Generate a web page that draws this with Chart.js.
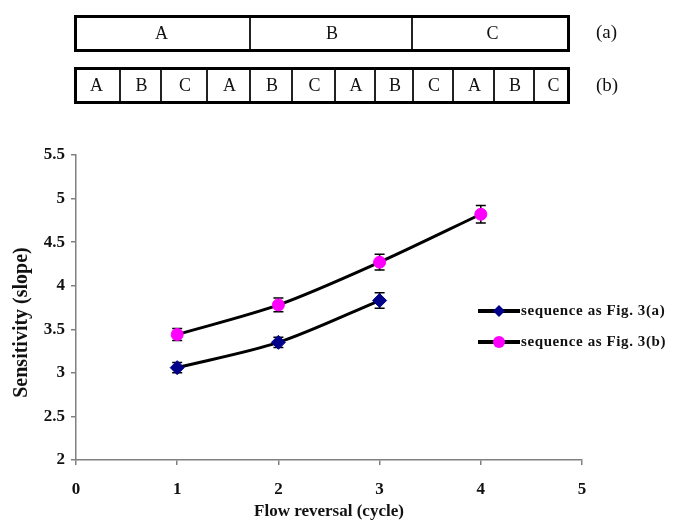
<!DOCTYPE html>
<html>
<head>
<meta charset="utf-8">
<script src="https://cdn.jsdelivr.net/npm/chart.js@4.4.0/dist/chart.umd.min.js"></script>
<style>
  body { margin:0; background:#fff; font-family:"Liberation Serif", serif; }
  #page { position:relative; width:674px; height:527px; overflow:hidden; }
  #chart { position:absolute; left:0; top:0; }
  .strip { position:absolute; left:74px; width:496px; height:37px; border:3px solid #000; box-sizing:border-box; background:#fff; }
  .cell { position:absolute; top:0; bottom:0; text-align:center; font-size:18px; line-height:31px; color:#111; }
  .cell.sep { border-left:2px solid #222; }
  .tag { position:absolute; left:596px; font-size:19px; color:#111; }
</style>
</head>
<body>
<div id="page">
  <canvas id="chart" width="674" height="527"></canvas>
  <div class="strip" id="stripA" style="top:15px"></div>
  <div class="strip" id="stripB" style="top:67px"></div>
  <div class="tag" style="top:21px">(a)</div>
  <div class="tag" style="top:74px">(b)</div>
</div>
<script>
// sequence diagrams
var orderA = ["A", "B", "C"];
var orderB = ["A", "B", "C", "A", "B", "C", "A", "B", "C", "A", "B", "C"];

// chart data
var cycles = [1, 2, 3, 4];
var seqA = [3.06, 3.35, 3.83];
var seqB = [3.44, 3.78, 4.27, 4.82];
var errA = [0.06, 0.06, 0.09];
var errB = [0.07, 0.08, 0.09, 0.10];
var seriesNames = ["sequence as Fig. 3(a)", "sequence as Fig. 3(b)"];
var xTicks = [0, 1, 2, 3, 4, 5];
var yTicks = [2, 2.5, 3, 3.5, 4, 4.5, 5, 5.5];

/*** strips (a) and (b) ***/
function fillStrip(id, letters, edges) {
  var strip = document.getElementById(id);
  for (var i = 0; i < letters.length; i++) {
    var d = document.createElement('div');
    d.className = 'cell' + (i > 0 ? ' sep' : '');
    d.style.left = (edges[i] - 77) + 'px';
    d.style.width = (edges[i + 1] - edges[i]) + 'px';
    d.textContent = letters[i];
    strip.appendChild(d);
  }
}
fillStrip('stripA', orderA, [74, 249, 411, 570]);
fillStrip('stripB', orderB, [74, 119, 160, 206, 249, 291, 334, 374, 412, 452, 493, 533, 570]);

/*** plugins ***/
var errorBars = {
  id: 'errorBars',
  beforeDatasetsDraw: function(chart) {
    var c = chart.ctx, ys = chart.scales.y;
    var errs = [errA, errB];
    chart.data.datasets.forEach(function(ds, i) {
      var meta = chart.getDatasetMeta(i);
      c.save();
      c.strokeStyle = '#000';
      c.lineWidth = 1.5;
      meta.data.forEach(function(pt, j) {
        var v = ds.data[j].y, e = errs[i][j];
        var top = ys.getPixelForValue(v + e), bot = ys.getPixelForValue(v - e);
        c.beginPath();
        c.moveTo(pt.x, top); c.lineTo(pt.x, bot);
        c.moveTo(pt.x - 5, top); c.lineTo(pt.x + 5, top);
        c.moveTo(pt.x - 5, bot); c.lineTo(pt.x + 5, bot);
        c.stroke();
      });
      c.restore();
    });
  }
};

var sideLegend = {
  id: 'sideLegend',
  afterDraw: function(chart) {
    var c = chart.ctx;
    var rows = [311, 342];
    chart.data.datasets.forEach(function(ds, i) {
      var y = rows[i];
      c.save();
      c.strokeStyle = '#000';
      c.lineWidth = 4;
      c.beginPath(); c.moveTo(478, y); c.lineTo(520, y); c.stroke();
      c.fillStyle = ds.pointBackgroundColor;
      c.beginPath();
      if (ds.pointStyle === 'rectRot') {
        c.moveTo(499, y - 6); c.lineTo(505, y); c.lineTo(499, y + 6); c.lineTo(493, y);
      } else {
        c.arc(499, y, 6, 0, Math.PI * 2);
      }
      c.closePath(); c.fill();
      c.fillStyle = '#111';
      c.font = 'bold 15px "Liberation Serif"';
      c.letterSpacing = '0.6px';
      c.textBaseline = 'middle';
      c.fillText(ds.label, 521, y);
      c.restore();
    });
  }
};

var tickFont = { family: 'Liberation Serif', size: 17, weight: 'bold' };

var ctx = document.getElementById('chart');
var chart = new Chart(ctx, {
  type: 'line',
  data: {
    datasets: [
      {
        label: seriesNames[0],
        data: seqA.map(function(v, i) { return { x: cycles[i], y: v }; }),
        borderColor: '#000',
        borderWidth: 3,
        tension: 0.3,
        pointStyle: 'rectRot',
        pointRadius: 7,
        pointBackgroundColor: '#00008B',
        pointBorderColor: '#00008B',
        pointBorderWidth: 1
      },
      {
        label: seriesNames[1],
        data: seqB.map(function(v, i) { return { x: cycles[i], y: v }; }),
        borderColor: '#000',
        borderWidth: 3,
        tension: 0.3,
        pointStyle: 'circle',
        pointRadius: 6,
        pointBackgroundColor: '#FF00FF',
        pointBorderColor: '#FF00FF',
        pointBorderWidth: 1
      }
    ]
  },
  options: {
    responsive: false,
    animation: false,
    layout: { padding: { left: 0, top: 155, right: 92, bottom: 0 } },
    plugins: { legend: { display: false }, tooltip: { enabled: false } },
    scales: {
      x: {
        type: 'linear',
        min: 0, max: 5,
        afterFit: function(a) { a.height = 67; },
        afterBuildTicks: function(a) { a.ticks = xTicks.map(function(v) { return { value: v }; }); },
        grid: { drawOnChartArea: false, drawTicks: true, tickLength: 5, color: '#808080', lineWidth: 1.5 },
        border: { color: '#808080', width: 1.5 },
        ticks: { color: '#111', padding: 14, font: tickFont, callback: function(v) { return String(v); } },
        title: {
          display: true, text: 'Flow reversal (cycle)', color: '#111',
          padding: { top: 0, bottom: 5 },
          font: { family: 'Liberation Serif', size: 17, weight: 'bold' }
        }
      },
      y: {
        min: 2, max: 5.5,
        afterFit: function(a) { a.width = 76; },
        afterBuildTicks: function(a) { a.ticks = yTicks.map(function(v) { return { value: v }; }); },
        grid: { drawOnChartArea: false, drawTicks: true, tickLength: 5, color: '#808080', lineWidth: 1.5 },
        border: { color: '#808080', width: 1.5 },
        ticks: { color: '#111', padding: 6, font: tickFont, callback: function(v) { return String(v); } },
        title: {
          display: true, text: 'Sensitivity (slope)      ', color: '#111',
          padding: { top: 10, bottom: 0 },
          font: { family: 'Liberation Serif', size: 20, weight: 'bold' }
        }
      }
    }
  },
  plugins: [errorBars, sideLegend]
});
</script>
</body>
</html>
